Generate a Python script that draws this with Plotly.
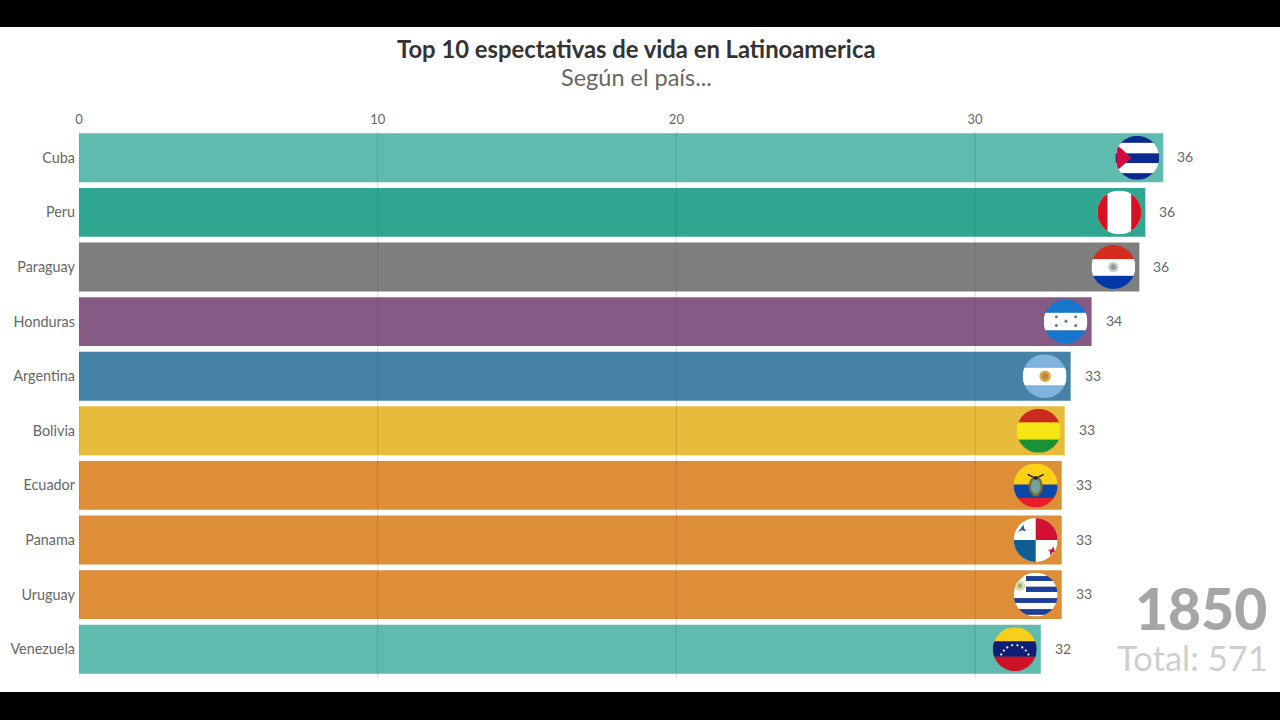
import base64
import plotly.graph_objects as go

countries = ['Cuba', 'Peru', 'Paraguay', 'Honduras', 'Argentina', 'Bolivia', 'Ecuador', 'Panama', 'Uruguay', 'Venezuela']
values = [36.3, 35.7, 35.5, 33.9, 33.2, 33.0, 32.9, 32.9, 32.9, 32.2]
labels = ['36', '36', '36', '34', '33', '33', '33', '33', '33', '32']
colors = ['#5fbbad', '#2fa68f', '#7e7e7e', '#855a85', '#4682a5', '#e8bc3b', '#dd8e37', '#dd8e37', '#dd8e37', '#5fbbad']
x_ticks = [0, 10, 20, 30]
year = '1850'
total = 'Total: 571'
title = 'Top 10 espectativas de vida en Latinoamerica'
subtitle = 'Según el país...'

W, H = 1280, 720
FONT = 'Lato'


def stripes(cols, sizes=None):
    sizes = sizes or [100 / len(cols)] * len(cols)
    out, y = '', 0
    for c, s in zip(cols, sizes):
        out += f'<rect x="0" y="{y}" width="100" height="{s + 0.5}" fill="{c}"/>'
        y += s
    return out


# banderas
flags = {
    'Cuba': stripes(['#0b2a8f', '#fff', '#0b2a8f', '#fff', '#0b2a8f'], [16, 24, 22, 23, 15])
        + '<polygon points="3,20 37,50 3,80" fill="#cf0a3c"/>',
    'Peru': '<rect width="100" height="100" fill="#fff"/><rect width="23" height="100" fill="#d91023"/>'
        '<rect x="77" width="23" height="100" fill="#d91023"/>',
    'Paraguay': stripes(['#d52b1e', '#fff', '#0038a8'], [32, 38, 30])
        + '<circle cx="50" cy="50" r="12" fill="#c9cfc8"/><circle cx="50" cy="50" r="6" fill="#8d968f"/>',
    'Honduras': stripes(['#1776cb', '#fff', '#1776cb'], [30, 40, 30])
        + ''.join(f'<circle cx="{a}" cy="{b}" r="3.5" fill="#5f7f9c"/>' for a, b in
                  [(29, 39), (73, 39), (51, 49), (29, 59), (73, 59)]),
    'Argentina': stripes(['#7fb2dd', '#fff', '#7fb2dd'], [31, 40, 29])
        + '<circle cx="51" cy="50" r="13" fill="#d9a64a"/><circle cx="51" cy="50" r="7" fill="#b9853a"/>',
    'Bolivia': stripes(['#cc2a1e', '#f5e616', '#1a9136'], [31, 39, 30]),
    'Ecuador': stripes(['#fcd116', '#0a47a9', '#ea1c2b'], [48, 31, 21])
        + '<ellipse cx="50" cy="52" rx="16" ry="23" fill="#7d6a2c"/><ellipse cx="50" cy="52" rx="11" ry="17" fill="#6fa39b"/>'
        '<path d="M32 25 Q50 38 68 25 Q56 30 50 36 Q44 30 32 25" fill="#222" stroke="#222" stroke-width="3"/>',
    'Panama': '<rect width="100" height="100" fill="#fff"/><rect x="50" width="50" height="50" fill="#d21034"/>'
        '<rect y="50" width="50" height="50" fill="#0f5f95"/>'
        '<polygon points="22,15 24,24 29,30 18,28 9,31 16,24" fill="#2e5f85"/>'
        '<polygon points="90,65 92,73 97,79 88,78 84,87 82,75 76,72 85,72" fill="#c2123a"/>',
    'Uruguay': stripes(['#fff', '#1a3f9c', '#fff', '#1a3f9c', '#fff', '#1a3f9c', '#fff', '#1a3f9c', '#fff'],
                       [8, 11, 13, 12, 14, 11, 14, 13, 4])
        + '<rect width="28" height="48" fill="#fff"/><circle cx="14" cy="30" r="12" fill="#d6dcb4"/><circle cx="14" cy="30" r="5" fill="#a9ad62"/>',
    'Venezuela': stripes(['#f7ce1a', '#0f1f75', '#cf1126'], [32, 35, 33])
        + ''.join(f'<circle cx="{a}" cy="{b}" r="2.5" fill="#fff"/>' for a, b in
                  [(19, 62), (25, 53), (33, 46), (44, 41), (56, 41), (67, 46), (75, 53), (81, 62)]),
}


def flag_uri(body):
    svg = ('<svg xmlns="http://www.w3.org/2000/svg" width="200" height="200" viewBox="0 0 100 100">'
           '<defs><clipPath id="c"><circle cx="50" cy="50" r="50"/></clipPath></defs>'
           f'<g clip-path="url(#c)">{body}</g></svg>')
    return 'data:image/svg+xml;base64,' + base64.b64encode(svg.encode()).decode()


fig = go.Figure(go.Bar(x=values, y=countries, orientation='h', marker=dict(color=colors, line_width=0),
                       hoverinfo='skip'))

x_max = 37.53
plot_w = 1121
plot_h = 546

# lineas de la grilla por encima de las barras
for t in x_ticks:
    fig.add_shape(type='line', xref='x', yref='paper', x0=t, x1=t, y0=1 - 678 / H, y1=1 - 131 / H,
                  line=dict(color='rgba(70,70,70,0.2)', width=1))

# franjas negras del video
fig.add_shape(type='rect', xref='paper', yref='paper', x0=0, x1=1, y0=1 - 27 / H, y1=1,
              fillcolor='black', line_width=0)
fig.add_shape(type='rect', xref='paper', yref='paper', x0=0, x1=1, y0=0, y1=1 - 692 / H,
              fillcolor='black', line_width=0)

for c, v, lab in zip(countries, values, labels):
    fig.add_layout_image(source=flag_uri(flags[c]), xref='x', yref='y', x=v - 4 * x_max / plot_w, y=c,
                         sizex=44 * x_max / plot_w, sizey=44 * 10 / plot_h, xanchor='right', yanchor='middle',
                         sizing='stretch', layer='above')
    fig.add_annotation(x=v, y=c, text=lab, showarrow=False, xanchor='left', xshift=12, yshift=1,
                       font=dict(size=14, color='#666666'))

fig.add_annotation(xref='paper', yref='paper', x=636 / W, y=1 - 49 / H, text=f'<b>{title}</b>', showarrow=False,
                   yanchor='middle', font=dict(size=23.8, color='#333333'))
fig.add_annotation(xref='paper', yref='paper', x=636 / W, y=1 - 77 / H, text=subtitle, showarrow=False,
                   yanchor='middle', font=dict(size=23.5, color='#666666'))
fig.add_annotation(xref='paper', yref='paper', x=1269 / W, y=1 - 608 / H, text=year, showarrow=False,
                   xanchor='right', yanchor='middle', font=dict(size=57, weight=900, color='#a6a6a6'))
fig.add_annotation(xref='paper', yref='paper', x=1270 / W, y=1 - 657 / H, text=total, showarrow=False,
                   xanchor='right', yanchor='middle', font=dict(size=34.6, color='#cfcfcf'))

fig.update_layout(
    width=W, height=H, margin=dict(l=0, r=0, t=0, b=0), showlegend=False, bargap=0.104,
    paper_bgcolor='white', plot_bgcolor='white', font=dict(family=FONT, color='#666666'),
    xaxis=dict(domain=[79 / W, 1200 / W], range=[0, x_max], side='top', tickvals=x_ticks, showgrid=False,
               zeroline=False, showline=False, ticks='', tickfont=dict(size=13), ticklabelstandoff=3,
               automargin=False),
    yaxis=dict(domain=[1 - 676.5 / H, 1 - 130.5 / H], autorange='reversed', categoryorder='array',
               categoryarray=countries, showgrid=False, zeroline=False, showline=False, ticks='',
               tickfont=dict(size=14.4), ticklabelstandoff=3, automargin=False),
)

fig.write_html("out.html", config=dict(displayModeBar=False),
               post_script="document.body.style.margin='0';document.documentElement.style.overflow='hidden';")
